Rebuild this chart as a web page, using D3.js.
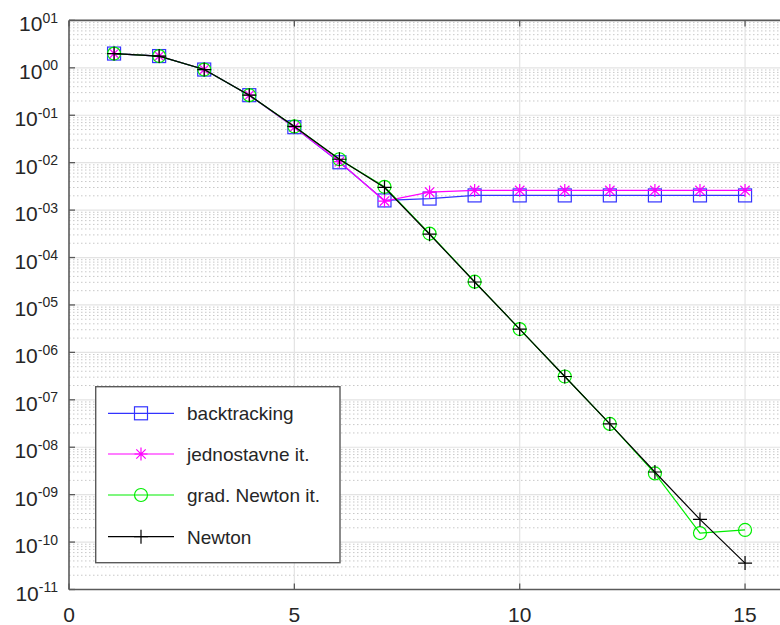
<!DOCTYPE html>
<html>
<head>
<meta charset="utf-8">
<script src="https://cdn.jsdelivr.net/npm/d3@7/dist/d3.min.js"></script>
<style>
  html, body { margin: 0; padding: 0; background: #fff; }
  svg { display: block; font-family: "Liberation Sans", Arial, sans-serif; }
</style>
</head>
<body>
<div id="chart"></div>
<script>
const iterations = [1, 2, 3, 4, 5, 6, 7, 8, 9, 10, 11, 12, 13, 14, 15];
const backtracking = [2.0, 1.77, 0.92, 0.265, 0.056, 0.0102, 0.0016, 0.00175, 0.00204, 0.00204, 0.00204, 0.00204, 0.00204, 0.00204, 0.00204];
const jednostavne = [2.0, 1.77, 0.92, 0.265, 0.056, 0.0105, 0.00155, 0.0024, 0.0026, 0.0026, 0.0026, 0.0026, 0.0026, 0.0026, 0.0026];
const gradNewton = [2.0, 1.77, 0.92, 0.265, 0.058, 0.0118, 0.0031, 3.2e-4, 3.1e-5, 3.1e-6, 3.1e-7, 3.1e-8, 2.8e-9, 1.55e-10, 1.8e-10];
const newton = [2.0, 1.77, 0.92, 0.265, 0.058, 0.0118, 0.0030, 3.1e-4, 3.05e-5, 3.1e-6, 3.1e-7, 3.1e-8, 3.0e-9, 3.0e-10, 3.6e-11];

const xTicks = [0, 5, 10, 15];
const yTickExps = [1, 0, -1, -2, -3, -4, -5, -6, -7, -8, -9, -10, -11];

const series = [
  {name: 'backtracking', values: backtracking, color: '#3333ff', marker: 'square'},
  {name: 'jednostavne it.', values: jednostavne, color: '#ff00ff', marker: 'star'},
  {name: 'grad. Newton it.', values: gradNewton, color: '#00ee00', marker: 'circle'},
  {name: 'Newton', values: newton, color: '#000000', marker: 'plus'}
];

const width = 780, height = 625;
const plotLeft = 69, plotTop = 20.4, plotBottom = 589.5;

const svg = d3.select('#chart').append('svg')
  .attr('width', width)
  .attr('height', height);

const x = d3.scaleLinear().domain([0, 16]).range([plotLeft, plotLeft + 16 * 45.07]);
const y = d3.scaleLog().domain([1e-11, 10]).range([plotBottom, plotTop]);

const grid = svg.append('g');

// minor grid (dotted)
const minorVals = [];
for (let e = -11; e < 1; e++) {
  for (let m = 2; m <= 9; m++) minorVals.push(m * Math.pow(10, e));
}
grid.selectAll('.minor-y')
  .data(minorVals)
  .enter().append('line')
  .attr('x1', plotLeft).attr('x2', width)
  .attr('y1', d => y(d)).attr('y2', d => y(d))
  .attr('stroke', '#c8c8c8')
  .attr('stroke-width', 1)
  .attr('stroke-dasharray', '1.5,2.5');

// major grid
grid.selectAll('.major-y')
  .data(yTickExps)
  .enter().append('line')
  .attr('x1', plotLeft).attr('x2', width)
  .attr('y1', d => y(Math.pow(10, d))).attr('y2', d => y(Math.pow(10, d)))
  .attr('stroke', '#e3e3e3')
  .attr('stroke-width', 1.2);

grid.selectAll('.major-x')
  .data(xTicks.filter(d => d > 0))
  .enter().append('line')
  .attr('x1', d => x(d)).attr('x2', d => x(d))
  .attr('y1', plotTop).attr('y2', plotBottom)
  .attr('stroke', '#e3e3e3')
  .attr('stroke-width', 1.2);

// axes frame
const axisColor = '#5a5a5a';
svg.append('line').attr('x1', plotLeft).attr('x2', plotLeft).attr('y1', plotTop).attr('y2', plotBottom)
  .attr('stroke', axisColor).attr('stroke-width', 1.6);
svg.append('line').attr('x1', plotLeft).attr('x2', width).attr('y1', plotBottom).attr('y2', plotBottom)
  .attr('stroke', axisColor).attr('stroke-width', 1.6);
svg.append('line').attr('x1', plotLeft).attr('x2', width).attr('y1', plotTop).attr('y2', plotTop)
  .attr('stroke', axisColor).attr('stroke-width', 1.6);

// ticks
svg.selectAll('.ytick')
  .data(yTickExps)
  .enter().append('line')
  .attr('x1', plotLeft).attr('x2', plotLeft + 6)
  .attr('y1', d => y(Math.pow(10, d))).attr('y2', d => y(Math.pow(10, d)))
  .attr('stroke', axisColor).attr('stroke-width', 1.3);

svg.selectAll('.xtick-b')
  .data(xTicks)
  .enter().append('line')
  .attr('x1', d => x(d)).attr('x2', d => x(d))
  .attr('y1', plotBottom).attr('y2', plotBottom - 6)
  .attr('stroke', axisColor).attr('stroke-width', 1.3);

svg.selectAll('.xtick-t')
  .data(xTicks)
  .enter().append('line')
  .attr('x1', d => x(d)).attr('x2', d => x(d))
  .attr('y1', plotTop).attr('y2', plotTop + 6)
  .attr('stroke', axisColor).attr('stroke-width', 1.3);

// tick labels
const fmtExp = e => (e < 0 ? '-' : '') + String(Math.abs(e)).padStart(2, '0');

const yLabels = svg.selectAll('.ylabel')
  .data(yTickExps)
  .enter().append('text')
  .attr('x', 58)
  .attr('y', d => y(Math.pow(10, d)) + 11)
  .attr('text-anchor', 'end')
  .attr('fill', '#262626')
  .attr('font-size', 21);
yLabels.append('tspan').text('10');
yLabels.append('tspan')
  .attr('font-size', 14)
  .attr('dy', -8.5)
  .text(d => fmtExp(d));

svg.selectAll('.xlabel')
  .data(xTicks)
  .enter().append('text')
  .attr('x', d => x(d))
  .attr('y', 621.5)
  .attr('text-anchor', 'middle')
  .attr('fill', '#262626')
  .attr('font-size', 21)
  .text(d => d);

// markers
function drawMarker(g, type, color) {
  if (type === 'square') {
    g.append('rect').attr('x', -6.5).attr('y', -6.5).attr('width', 13).attr('height', 13)
      .attr('fill', 'none').attr('stroke', color).attr('stroke-width', 1.2);
  } else if (type === 'circle') {
    g.append('circle').attr('r', 6.5)
      .attr('fill', 'none').attr('stroke', color).attr('stroke-width', 1.2);
  } else if (type === 'plus') {
    g.append('path').attr('d', 'M-7,0H7M0,-7V7')
      .attr('fill', 'none').attr('stroke', color).attr('stroke-width', 1.2);
  } else if (type === 'star') {
    const r = 6.5, rd = r * 0.72;
    g.append('path')
      .attr('d', `M-${r},0H${r}M0,-${r}V${r}M-${rd},-${rd}L${rd},${rd}M-${rd},${rd}L${rd},-${rd}`)
      .attr('fill', 'none').attr('stroke', color).attr('stroke-width', 1.2);
  }
}

const line = d3.line()
  .x((d, i) => x(iterations[i]))
  .y(d => y(d));

series.forEach(s => {
  const g = svg.append('g');
  g.append('path')
    .datum(s.values)
    .attr('d', line)
    .attr('fill', 'none')
    .attr('stroke', s.color)
    .attr('stroke-width', 1.2);
  g.selectAll('.pt')
    .data(s.values)
    .enter().append('g')
    .attr('transform', (d, i) => `translate(${x(iterations[i])},${y(d)})`)
    .each(function () { drawMarker(d3.select(this), s.marker, s.color); });
});

// legend
const legend = svg.append('g');
legend.append('rect')
  .attr('x', 95.7).attr('y', 386.7)
  .attr('width', 244.3).attr('height', 176)
  .attr('fill', '#fff')
  .attr('stroke', axisColor)
  .attr('stroke-width', 1.4);

const legendRowY = [413.3, 454, 495, 536.7];
series.forEach((s, i) => {
  const row = legend.append('g').attr('transform', `translate(0,${legendRowY[i]})`);
  row.append('line').attr('x1', 108).attr('x2', 174).attr('y1', 0).attr('y2', 0)
    .attr('stroke', s.color).attr('stroke-width', 1.2);
  drawMarker(row.append('g').attr('transform', 'translate(141,0)'), s.marker, s.color);
  row.append('text')
    .attr('x', 187).attr('y', 6.8)
    .attr('font-size', 19)
    .attr('fill', '#262626')
    .text(s.name);
});
</script>
</body>
</html>
